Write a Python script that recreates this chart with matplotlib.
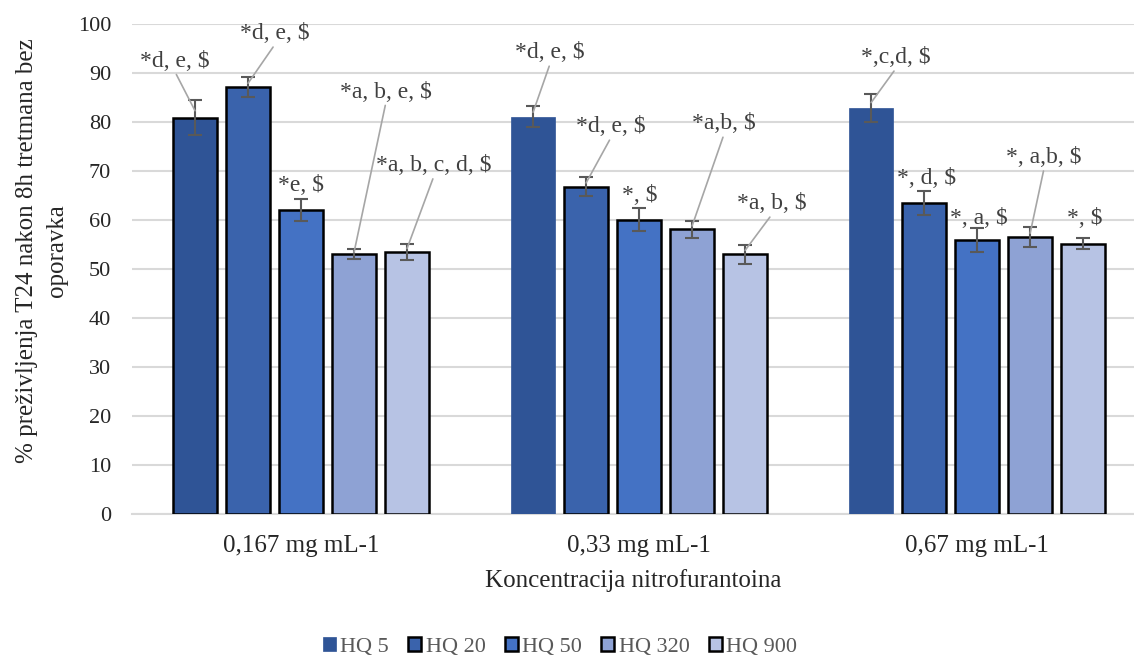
import matplotlib
matplotlib.use("Agg")
import matplotlib.pyplot as plt
from matplotlib.patches import Patch
import numpy as np

# Data
groups = ["0,167 mg mL-1", "0,33 mg mL-1", "0,67 mg mL-1"]
series = ["HQ 5", "HQ 20", "HQ 50", "HQ 320", "HQ 900"]
hq5 = [80.9, 81.1, 82.8]
hq20 = [87.1, 66.8, 63.5]
hq50 = [62.0, 60.1, 55.9]
hq320 = [53.0, 58.1, 56.5]
hq900 = [53.5, 53.0, 55.2]
err_hq5 = [3.5, 2.2, 2.9]
err_hq20 = [2.0, 1.9, 2.4]
err_hq50 = [2.3, 2.4, 2.4]
err_hq320 = [1.0, 1.7, 2.0]
err_hq900 = [1.7, 2.0, 1.1]
labels_hq5 = ["*d, e, $", "*d, e, $", "*,c,d, $"]
labels_hq20 = ["*d, e, $", "*d, e, $", "*, d, $"]
labels_hq50 = ["*e, $", "*, $", "*, a, $"]
labels_hq320 = ["*a, b, e, $", "*a,b, $", "*, a,b, $"]
labels_hq900 = ["*a, b, c, d, $", "*a, b, $", "*, $"]
y_ticks = [0, 10, 20, 30, 40, 50, 60, 70, 80, 90, 100]

values = [hq5, hq20, hq50, hq320, hq900]
errors = [err_hq5, err_hq20, err_hq50, err_hq320, err_hq900]
labels = [labels_hq5, labels_hq20, labels_hq50, labels_hq320, labels_hq900]

colors = ["#2F5496", "#3A63AC", "#4472C4", "#8EA2D4", "#B7C3E4"]

# Label placement (data coords) and whether a leader line is drawn
label_pos = [
    [(-0.373, 92.4, True), (0.737, 94.1, True), (1.760, 93.1, True)],
    [(-0.077, 98.0, True), (0.917, 79.0, True), (1.849, 68.4, False)],
    [(0.000, 67.1, False), (1.003, 65.1, False), (2.006, 60.4, False)],
    [(0.251, 86.1, True), (1.251, 79.6, True), (2.198, 72.7, True)],
    [(0.393, 71.1, True), (1.393, 63.3, True), (2.317, 60.4, False)],
]

plt.rcParams["font.family"] = ["Liberation Serif", "DejaVu Serif"]
FS_TICK = 16
FS_ANN = 17
FS_TITLE = 18

fig = plt.figure(figsize=(11.34, 6.59), dpi=100)
ax = fig.add_axes([132 / 1134, (659 - 514) / 659, 1 - 132 / 1134, (514 - 24) / 659])

x = np.arange(len(groups))
pitch = 53 / 338
width = 44 / 338

for i, (vals, errs, col) in enumerate(zip(values, errors, colors)):
    pos = x + (i - 2) * pitch
    if i == 0:
        edges = ["black", col, col]
        lws = [1.8, 0.5, 0.5]
    else:
        edges = ["black"] * 3
        lws = [1.8] * 3
    ax.bar(pos, vals, width, color=col, edgecolor=edges, linewidth=lws, zorder=3)
    ax.errorbar(pos, vals, yerr=errs, fmt="none", ecolor="#595959",
                elinewidth=1.5, capsize=5, capthick=1.5, zorder=4)
    for j in range(len(groups)):
        tx, ty, line = label_pos[i][j]
        if line:
            ax.annotate(labels[i][j], xy=(pos[j], vals[j] + errs[j] * 0.4),
                        xytext=(tx, ty), ha="center", va="center",
                        fontsize=FS_ANN, color="#404040", zorder=5,
                        arrowprops=dict(arrowstyle="-", color="#A6A6A6",
                                        lw=1.2, shrinkA=0, shrinkB=0,
                                        relpos=(0.5, 0.0)))
        else:
            ax.text(tx, ty, labels[i][j], ha="center", va="center",
                    fontsize=FS_ANN, color="#404040", zorder=5)

ax.set_ylim(0, 100)
ax.set_xlim(-0.5, 2.464)
ax.set_yticks(y_ticks)
ax.set_xticks(x)
ax.set_xticklabels(groups)
ax.tick_params(axis="both", length=0, colors="#262626")
ax.tick_params(axis="y", pad=15, labelsize=FS_TICK)
ax.tick_params(axis="x", pad=15, labelsize=FS_TITLE)
ax.yaxis.grid(True, color="#D9D9D9", linewidth=1.5, zorder=0)
ax.set_axisbelow(True)
for s in ["top", "right", "left"]:
    ax.spines[s].set_visible(False)
ax.spines["bottom"].set_color("#D9D9D9")
ax.spines["bottom"].set_linewidth(1.5)

ax.set_xlabel("Koncentracija nitrofurantoina", fontsize=FS_TITLE, color="#262626", labelpad=9)
ax.set_ylabel("% preživljenja T24 nakon 8h tretmana bez\noporavka", fontsize=FS_TITLE,
              color="#262626", linespacing=1.45, va="center", ha="center")
ax.yaxis.set_label_coords(-90 / 1002, 0.537)

handles = [Patch(facecolor=colors[0], edgecolor=colors[0], linewidth=0.5)]
handles += [Patch(facecolor=c, edgecolor="black", linewidth=1.8) for c in colors[1:]]
fig.legend(handles, series, loc="center", bbox_to_anchor=(560 / 1134, 1 - 647 / 659),
           ncol=5, frameon=False, fontsize=FS_TICK, handlelength=0.6, handleheight=0.6,
           handletextpad=0.2, columnspacing=0.85, labelcolor="#595959")

fig.savefig("out.png", dpi=100)
